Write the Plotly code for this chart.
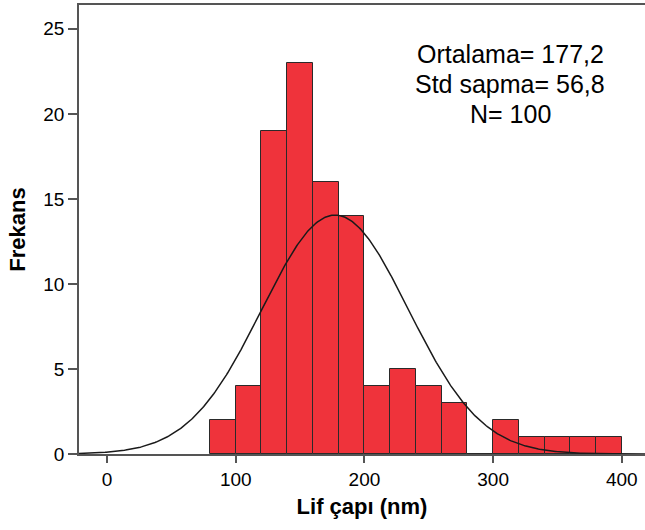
import numpy as np
import plotly.graph_objects as go

# Data
bin_starts = [80, 100, 120, 140, 160, 180, 200, 220, 240, 260, 280, 300, 320, 340, 360, 380]
counts = [2, 4, 19, 23, 16, 14, 4, 5, 4, 3, 0, 2, 1, 1, 1, 1]
bin_width = 20
mean_val = 177.2
std_val = 56.8
n_val = 100
x_ticks = [0, 100, 200, 300, 400]
y_ticks = [0, 5, 10, 15, 20, 25]
stat_lines = [
    "Ortalama= " + f"{mean_val:.1f}".replace(".", ","),
    "Std sapma= " + f"{std_val:.1f}".replace(".", ","),
    f"N= {n_val}",
]

centers = [b + bin_width / 2 for b in bin_starts]

X_RANGE = [-21.8, 418]
Y_RANGE = [0, 26.4]

# Fitted normal curve (defined by the reported mean / std / N)
xs = np.linspace(X_RANGE[0], X_RANGE[1], 500)
ys = n_val * bin_width / (std_val * np.sqrt(2 * np.pi)) * np.exp(-0.5 * ((xs - mean_val) / std_val) ** 2)

font_family = "Liberation Sans, Arial, sans-serif"

W, H = 645, 530
ML, MR, MT, MB = 79, 0, 5, 76
plot_w = W - ML - MR
plot_h = H - MT - MB

fig = go.Figure()
fig.add_trace(go.Bar(
    x=centers, y=counts, width=bin_width,
    marker=dict(color="#EF333B", line=dict(color="#2a2a2a", width=1)),
    showlegend=False, hoverinfo="skip",
))
fig.add_trace(go.Scatter(
    x=xs, y=ys, mode="lines",
    line=dict(color="#1a1a1a", width=1.5),
    showlegend=False, hoverinfo="skip", cliponaxis=True,
))

# stats text block, one annotation per line (pixel positions converted to paper)
for i, txt in enumerate(stat_lines):
    py = 54 + 30 * i
    fig.add_annotation(
        x=(510 - ML) / plot_w, y=(H - MB - py) / plot_h,
        xref="paper", yref="paper", xanchor="center", yanchor="middle",
        showarrow=False, text=txt,
        font=dict(family=font_family, size=25, color="#000000"),
    )

fig.update_layout(
    width=W, height=H, autosize=False,
    margin=dict(l=ML, r=MR, t=MT, b=MB, pad=0),
    plot_bgcolor="white", paper_bgcolor="white",
    bargap=0,
    font=dict(family=font_family, size=19, color="#000000"),
    xaxis=dict(
        range=X_RANGE,
        tickvals=x_ticks, ticktext=[str(v) for v in x_ticks],
        ticks="outside", ticklen=7, tickwidth=1.5, tickcolor="#555555",
        showline=True, linecolor="#555555", linewidth=1.5, mirror=True,
        showgrid=False, zeroline=False, automargin=False,
        title=dict(text="<b>Lif çapı (nm)</b>", font=dict(size=22), standoff=10),
    ),
    yaxis=dict(
        range=Y_RANGE,
        tickvals=y_ticks, ticktext=[str(v) for v in y_ticks],
        ticks="outside", ticklen=9, tickwidth=1.5, tickcolor="#555555",
        showline=True, linecolor="#555555", linewidth=1.5, mirror=False,
        showgrid=False, zeroline=False, automargin=False,
        title=dict(text="<b>Frekans</b>", font=dict(size=22), standoff=12),
    ),
)

fig.write_html(
    "out.html",
    config={"displayModeBar": False},
    post_script="document.body.style.margin='0';document.body.style.overflow='hidden';",
)
